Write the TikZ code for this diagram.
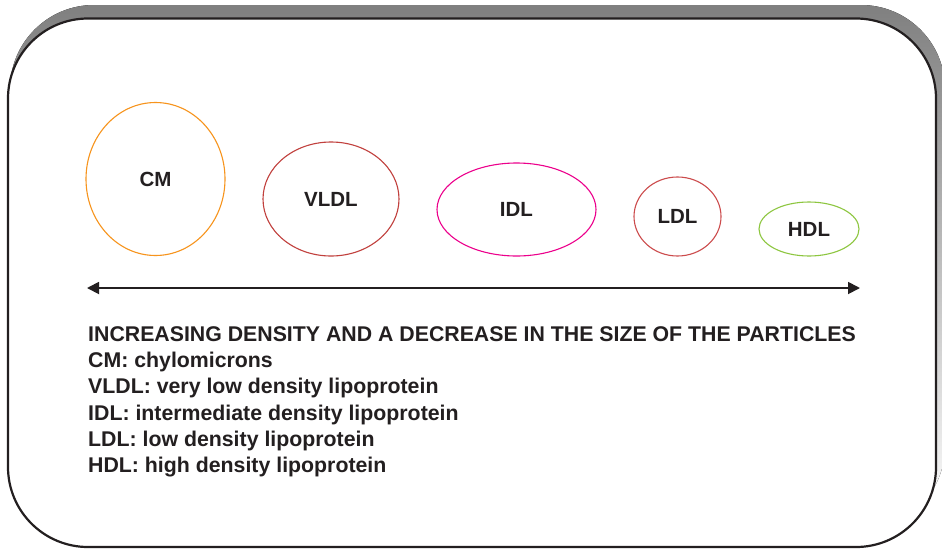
\documentclass[tikz,border=0pt]{standalone}
\usepackage{fontspec}
\setmainfont{Liberation Sans}
\usetikzlibrary{shapes.geometric,arrows.meta}
\definecolor{ink}{HTML}{231F20}
\definecolor{shade}{HTML}{A7A9AC}
\definecolor{cmcol}{HTML}{F7941D}
\definecolor{vldlcol}{HTML}{C1403D}
\definecolor{idlcol}{HTML}{EC008C}
\definecolor{ldlcol}{HTML}{CC4B4C}
\definecolor{hdlcol}{HTML}{8DC63F}
\begin{document}
\begin{tikzpicture}[x=1pt,y=-1pt,>={Triangle[length=12pt,width=12pt]},
  particle/.style={ellipse,line width=1.1pt,inner sep=0pt,text=ink,
    font=\bfseries\fontsize{20.5}{24}\selectfont},
  legend/.style={anchor=base west,inner sep=0pt,text=ink,
    font=\bfseries\fontsize{21.3}{25}\selectfont}]
\useasboundingbox (0,0) rectangle (942,549);
\fill[shade,rounded corners=84pt] (10,5) rectangle (945,530);
\draw[ink,fill=white,line width=2.2pt,rounded corners=80pt] (8,18.5) rectangle (936,547);
\node[particle,draw=cmcol,minimum width=139pt,minimum height=153pt] (cm) at (155.5,179) {CM};
\node[particle,draw=vldlcol,minimum width=136pt,minimum height=114pt] (vldl) at (331,199) {VLDL};
\node[particle,draw=idlcol,minimum width=159pt,minimum height=93pt] (idl) at (516.5,209.5) {IDL};
\node[particle,draw=ldlcol,minimum width=87pt,minimum height=79pt] (ldl) at (677.5,216.5) {LDL};
\node[particle,draw=hdlcol,minimum width=100pt,minimum height=54pt] (hdl) at (809,229) {HDL};
\coordinate (small) at (87,288);
\coordinate (large) at (860,288);
\draw[ink,line width=1.8pt,<->] (small) -- (large);
\foreach \y/\txt [count=\i] in {341/{INCREASING DENSITY AND A DECREASE IN THE SIZE OF THE PARTICLES},
  367/{CM: chylomicrons},393/{VLDL: very low density lipoprotein},
  420/{IDL: intermediate density lipoprotein},446/{LDL: low density lipoprotein},
  472/{HDL: high density lipoprotein}}
  \node[legend] (line\i) at (88,\y) {\txt};
\end{tikzpicture}
\end{document}
